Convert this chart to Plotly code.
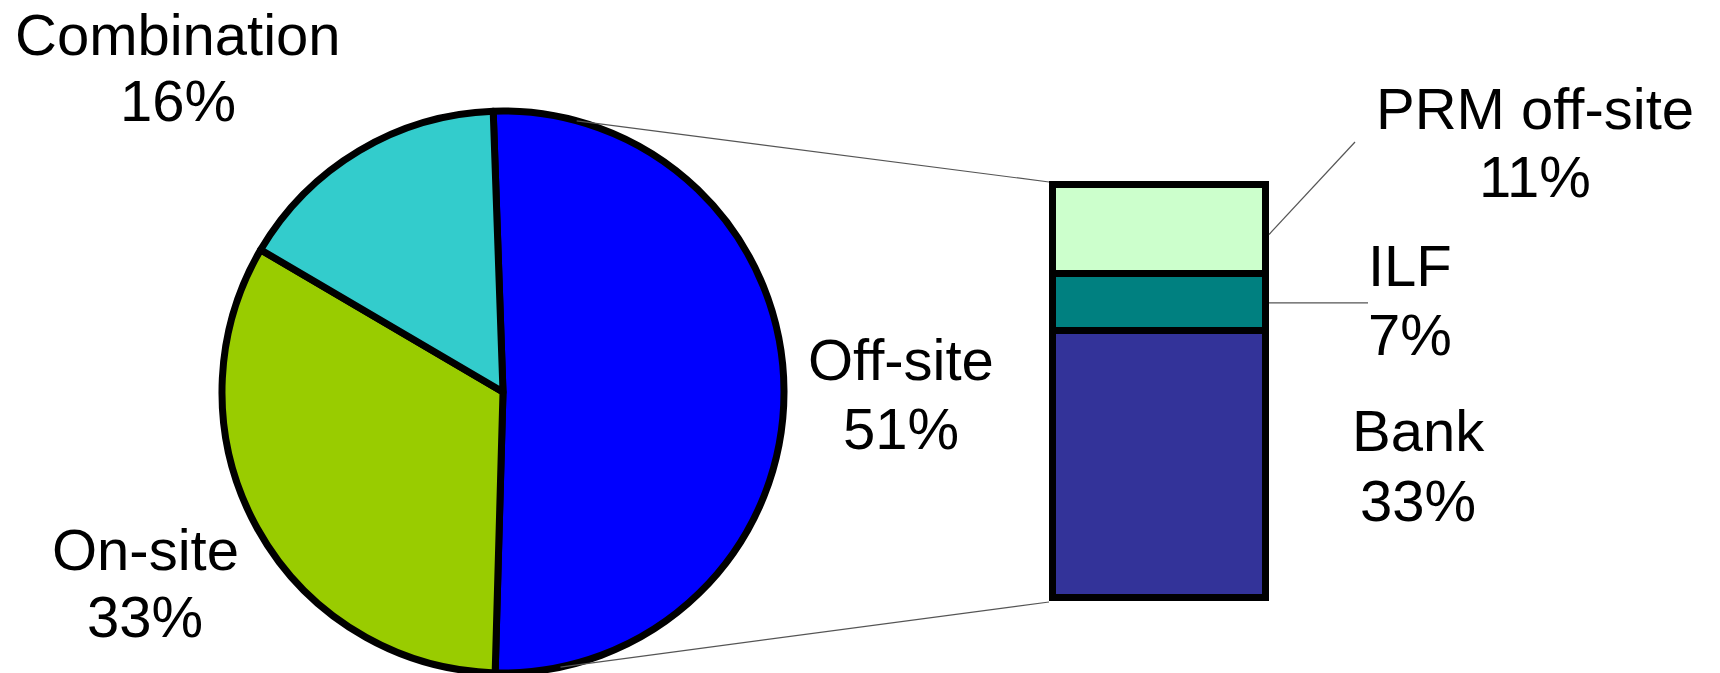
import math
import plotly.graph_objects as go

W, H = 1720, 673

# ---- data ----
pie_labels = ["Off-site", "On-site", "Combination"]
pie_values = [51, 33, 16]
pie_colors = ["#0000FF", "#99CC00", "#33CCCC"]

bar_labels = ["Bank", "ILF", "PRM off-site"]
bar_values = [33, 7, 11]
bar_colors = ["#333399", "#008080", "#CCFFCC"]

# ---- layout constants (pixels) ----
PIE_CX, PIE_CY, PIE_R = 503, 392, 281
BAR_X0, BAR_X1 = 1052.5, 1265.5
BAR_Y0, BAR_Y1 = 598.5, 185.5   # bottom, top (pixels from top)
BAR_LW = 7
FONT = "Liberation Sans, Arial, sans-serif"
FS = 58


def px(x):
    return x / W


def py(y):
    return 1 - y / H


fig = go.Figure()

fig.add_trace(go.Pie(
    labels=pie_labels, values=pie_values, sort=False, direction="clockwise",
    rotation=-2, textinfo="none", hoverinfo="label+percent",
    marker=dict(colors=pie_colors, line=dict(color="black", width=7)),
    domain=dict(x=[px(PIE_CX - PIE_R), px(PIE_CX + PIE_R)],
                y=[py(PIE_CY + PIE_R), py(PIE_CY - PIE_R)]),
    showlegend=False,
))

total_bar = sum(bar_values)
for lab, val, col in zip(bar_labels, bar_values, bar_colors):
    fig.add_trace(go.Bar(
        x=["Off-site"], y=[val], name=lab, showlegend=False,
        marker=dict(color=col, line=dict(color="black", width=BAR_LW)),
        cliponaxis=False, xaxis="x", yaxis="y",
    ))

# pad the axes so the bar outline is not clipped by the subplot area
XPAD = 0.05                      # category units on each side
ypx_per_unit = (BAR_Y0 - BAR_Y1) / total_bar
YPAD = 1.0                       # data units on each side
bar_w = BAR_X1 - BAR_X0
xd0 = BAR_X0 - bar_w * XPAD
xd1 = BAR_X1 + bar_w * XPAD
yd0 = BAR_Y0 + YPAD * ypx_per_unit
yd1 = BAR_Y1 - YPAD * ypx_per_unit

fig.update_layout(
    width=W, height=H, margin=dict(l=0, r=0, t=0, b=0),
    paper_bgcolor="white", plot_bgcolor="rgba(0,0,0,0)",
    barmode="stack", bargap=0,
    xaxis=dict(domain=[px(xd0), px(xd1)], range=[-0.5 - XPAD, 0.5 + XPAD],
               visible=False, fixedrange=True),
    yaxis=dict(domain=[py(yd0), py(yd1)], range=[-YPAD, total_bar + YPAD],
               visible=False, fixedrange=True),
    font=dict(family=FONT, size=FS, color="black"),
)


def pie_pt(angle_deg):
    a = math.radians(angle_deg)
    return PIE_CX + PIE_R * math.sin(a), PIE_CY - PIE_R * math.cos(a)


half = BAR_LW / 2
line_style = dict(color="#555555", width=1.2)

# connector lines from pie to bar corners
tx, ty = pie_pt(15.2)
bx, by = pie_pt(168.2)
fig.add_shape(type="line", xref="paper", yref="paper",
              x0=px(tx), y0=py(ty), x1=px(BAR_X0 - half), y1=py(BAR_Y1 - half),
              line=line_style)
fig.add_shape(type="line", xref="paper", yref="paper",
              x0=px(bx), y0=py(by), x1=px(BAR_X0 - half), y1=py(BAR_Y0 + half),
              line=line_style)

# leader lines for bar segments
prm_mid = bar_values[0] + bar_values[1] + bar_values[2] * 0.45
ilf_mid = bar_values[0] + bar_values[1] / 2
prm_py = BAR_Y0 - (BAR_Y0 - BAR_Y1) * prm_mid / total_bar
ilf_py = BAR_Y0 - (BAR_Y0 - BAR_Y1) * ilf_mid / total_bar
fig.add_shape(type="line", xref="paper", yref="paper",
              x0=px(BAR_X1 + half), y0=py(prm_py), x1=px(1355), y1=py(142),
              line=line_style)
fig.add_shape(type="line", xref="paper", yref="paper",
              x0=px(BAR_X1 + half), y0=py(ilf_py), x1=px(1368), y1=py(ilf_py),
              line=line_style)


def label(name, pct, x, y_name, y_pct):
    for t, y in ((name, y_name), (f"{pct}%", y_pct)):
        fig.add_annotation(text=t, x=px(x), y=py(y), xref="paper", yref="paper",
                           xanchor="center", yanchor="middle", showarrow=False,
                           font=dict(family=FONT, size=FS, color="black"))


label(pie_labels[2], pie_values[2], 178, 34, 100)
label(pie_labels[1], pie_values[1], 145, 549, 616)
label(pie_labels[0], pie_values[0], 901, 359, 428)
label(bar_labels[2], bar_values[2], 1535, 109, 177)
label(bar_labels[1], bar_values[1], 1410, 266, 334)
label(bar_labels[0], bar_values[0], 1418, 431, 500)

fig.write_html("out.html")
